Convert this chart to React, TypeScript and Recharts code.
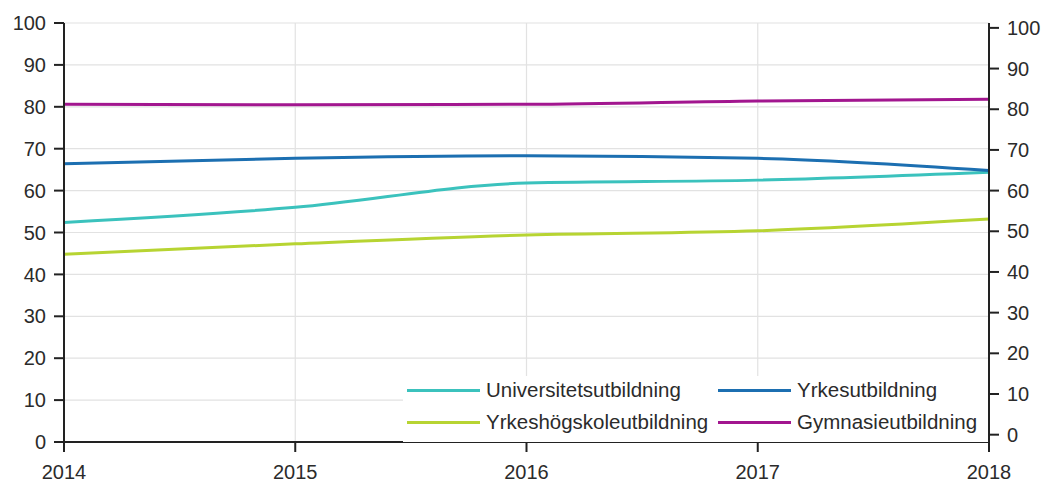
import { LineChart, Line, XAxis, YAxis, CartesianGrid, Legend } from "recharts";

const years = [2014, 2015, 2016, 2017, 2018];
const universitet = [52.4, 56.0, 61.8, 62.5, 64.4];
const yrkes = [66.4, 67.7, 68.3, 67.7, 64.8];
const yrkeshogskole = [44.8, 47.3, 49.4, 50.4, 53.2];
const gymnasie = [80.6, 80.5, 80.6, 81.4, 81.8];
const yTicks = [0, 10, 20, 30, 40, 50, 60, 70, 80, 90, 100];

// legend order is row by row: Universitet, Yrke / Yrkeshögskole, Gymnasie
const SERIES = [
  { key: "uni", name: "Universitetsutbildning", color: "#3bc2bd", values: universitet },
  { key: "yrke", name: "Yrkesutbildning", color: "#1c6fb1", values: yrkes },
  { key: "yh", name: "Yrkeshögskoleutbildning", color: "#b7d432", values: yrkeshogskole },
  { key: "gym", name: "Gymnasieutbildning", color: "#a2168f", values: gymnasie },
];

const data = years.map((year, i) => {
  const row: Record<string, number> = { year };
  SERIES.forEach((s) => (row[s.key] = s.values[i]));
  return row;
});

const FONT = "'Liberation Sans', Arial, sans-serif";
const tickStyle = { fontSize: 20, fill: "#2b2b2b", fontFamily: FONT };

function LegendBox() {
  return (
    <div
      style={{
        display: "grid",
        gridTemplateColumns: "311px 270px",
        gridAutoRows: "20px",
        rowGap: 12,
        padding: "4px 0 0 4px",
        background: "#fff",
        height: 66,
        boxSizing: "border-box",
        fontFamily: FONT,
      }}
    >
      {SERIES.map((s) => (
        <div key={s.key} style={{ display: "flex", alignItems: "center", height: 20 }}>
          <span style={{ width: 73, height: 3, background: s.color, marginRight: 6, flex: "none" }} />
          <span style={{ fontSize: 20.5, lineHeight: "20px", color: "#2b2b2b", whiteSpace: "nowrap" }}>
            {s.name}
          </span>
        </div>
      ))}
    </div>
  );
}

export default function App() {
  return (
    <div style={{ position: "absolute", left: 0, top: 0, background: "#fff" }}>
      <LineChart width={1043} height={482} data={data} margin={{ top: 23, right: 0, bottom: 0, left: 0 }}>
        <CartesianGrid yAxisId="left" stroke="#e2e2e2" strokeWidth={1.2} />
        <XAxis
          dataKey="year"
          type="number"
          domain={[2014, 2018]}
          ticks={years}
          height={40}
          tickSize={10}
          tickMargin={13}
          tick={tickStyle}
          stroke="#222"
          strokeWidth={2}
        />
        <YAxis
          yAxisId="left"
          orientation="left"
          width={64}
          domain={[0, 100]}
          ticks={yTicks}
          tickSize={10}
          tickMargin={8}
          tick={tickStyle}
          stroke="#222"
          strokeWidth={2}
        />
        <YAxis
          yAxisId="right"
          orientation="right"
          width={54}
          domain={[-1.8, 101.2]}
          allowDataOverflow
          ticks={yTicks}
          tickSize={10}
          tickMargin={8}
          tick={tickStyle}
          stroke="#222"
          strokeWidth={2}
        />
        <Legend
          layout="horizontal"
          verticalAlign="middle"
          content={<LegendBox />}
          wrapperStyle={{ left: 403, top: 376, width: 585, height: 66 }}
        />
        {SERIES.map((s) => (
          <Line
            key={s.key}
            yAxisId="left"
            type="monotone"
            dataKey={s.key}
            name={s.name}
            stroke={s.color}
            strokeWidth={3}
            dot={false}
            activeDot={false}
            isAnimationActive={false}
          />
        ))}
      </LineChart>
    </div>
  );
}
